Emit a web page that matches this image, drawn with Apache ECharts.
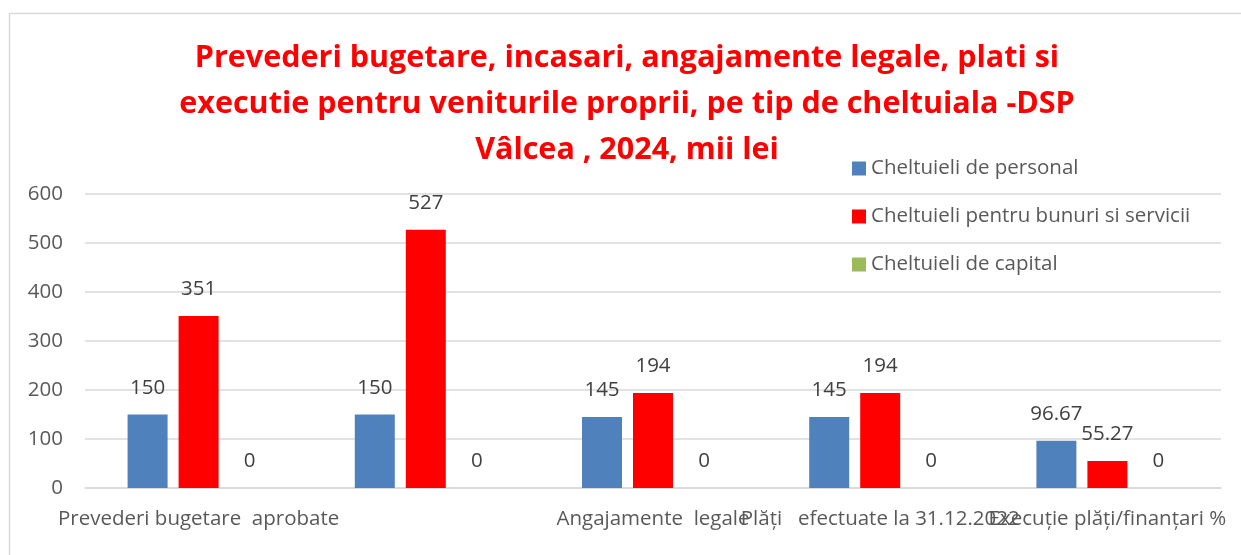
<!DOCTYPE html>
<html>
<head>
<meta charset="utf-8">
<script src="https://cdn.jsdelivr.net/npm/echarts@6/dist/echarts.min.js"></script>
<style>
  html, body { margin: 0; padding: 0; background: #fff; }
  #chart { width: 1241px; height: 555px; }
</style>
</head>
<body>
<div id="chart"></div>
<script>
const categories = ['Prevederi bugetare  aprobate', '', 'Angajamente  legale', 'Plăți   efectuate la 31.12.2022', 'Execuție plăți/finanțari %']
const personal = [150, 150, 145, 145, 96.67]
const bunuri = [351, 527, 194, 194, 55.27]
const capital = [0, 0, 0, 0, 0]
const seriesNames = ['Cheltuieli de personal', 'Cheltuieli pentru bunuri si servicii', 'Cheltuieli de capital']

const chart = echarts.init(document.getElementById('chart'))
const font = 'Open Sans, Liberation Sans, sans-serif'

// eticheta de valoare deasupra barei
const valueLabel = {
  show: true,
  position: 'top',
  distance: 16,
  color: '#404040',
  fontSize: 20.5,
  fontFamily: font
}

const option = {
  animation: false,
  textStyle: { fontFamily: font },
  graphic: [
    {
      type: 'rect',
      silent: true,
      shape: { x: 9.5, y: 13.5, width: 1400, height: 700 },
      style: { fill: 'none', stroke: '#d9d9d9', lineWidth: 1.5 }
    }
  ],
  title: {
    text: 'Prevederi bugetare, incasari, angajamente legale, plati si\nexecutie pentru veniturile proprii, pe tip de cheltuiala -DSP\nVâlcea , 2024, mii lei',
    left: 622,
    textAlign: 'center',
    top: 30,
    textStyle: {
      color: '#ff0000',
      fontSize: 30.5,
      fontWeight: 'bold',
      lineHeight: 46,
      fontFamily: font
    }
  },
  legend: {
    orient: 'vertical',
    left: 847,
    top: 153,
    itemGap: 27,
    itemWidth: 14,
    itemHeight: 14,
    icon: 'rect',
    data: seriesNames,
    textStyle: { color: '#595959', fontSize: 20.5, fontFamily: font }
  },
  grid: {
    left: 85,
    right: 20,
    top: 194,
    bottom: 67
  },
  xAxis: {
    type: 'category',
    data: categories,
    axisTick: { show: false },
    axisLine: { lineStyle: { color: '#d9d9d9', width: 1.5 } },
    axisLabel: { interval: 0, color: '#595959', fontSize: 20.5, margin: 21, fontFamily: font }
  },
  yAxis: {
    type: 'value',
    min: 0,
    max: 600,
    interval: 100,
    axisLine: { show: false },
    axisTick: { show: false },
    splitLine: { lineStyle: { color: '#d9d9d9', width: 1.5 } },
    axisLabel: { color: '#595959', fontSize: 20.5, margin: 22, fontFamily: font }
  },
  series: [
    {
      name: seriesNames[0],
      type: 'bar',
      data: personal,
      barWidth: 40,
      barGap: '27.5%',
      itemStyle: { color: '#4f81bd' },
      label: valueLabel
    },
    {
      name: seriesNames[1],
      type: 'bar',
      data: bunuri,
      barWidth: 40,
      barGap: '27.5%',
      itemStyle: { color: '#ff0000' },
      label: valueLabel
    },
    {
      name: seriesNames[2],
      type: 'bar',
      data: capital,
      barWidth: 40,
      barGap: '27.5%',
      itemStyle: { color: '#9bbb59' },
      label: valueLabel
    }
  ]
}
chart.setOption(option)
</script>
</body>
</html>
